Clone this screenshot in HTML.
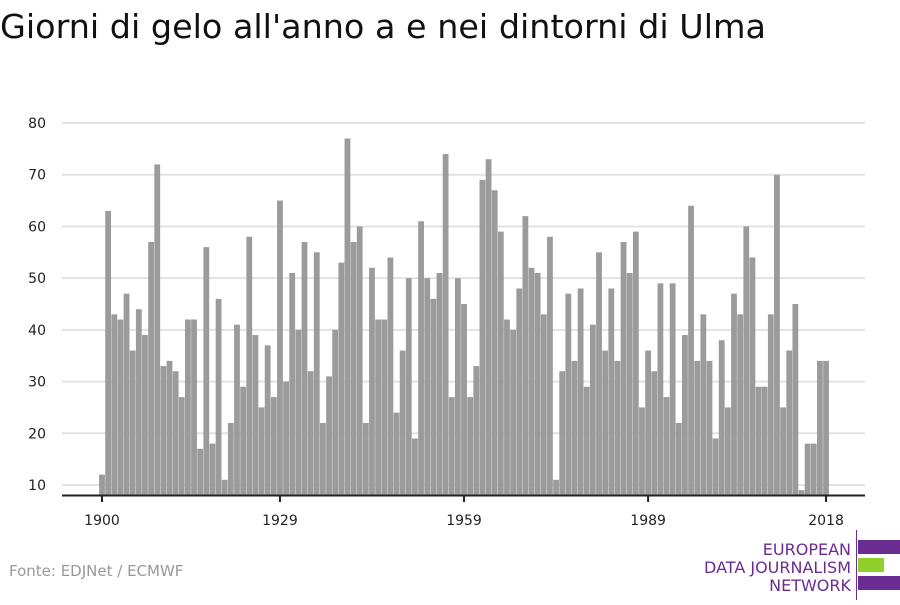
<!DOCTYPE html>
<html><head><meta charset="utf-8"><style>
body{margin:0;background:#fff;width:900px;height:600px;overflow:hidden;font-family:"Liberation Sans","DejaVu Sans",sans-serif}
</style></head><body>
<svg width="900" height="600" viewBox="0 0 900 600" xmlns="http://www.w3.org/2000/svg" font-family="'DejaVu Sans','Liberation Sans',sans-serif">
<text x="0" y="38" font-size="33" fill="#111" textLength="766" lengthAdjust="spacingAndGlyphs" font-family="'DejaVu Sans','Liberation Sans',sans-serif">Giorni di gelo all'anno a e nei dintorni di Ulma</text>
<g id="grid" stroke="#e3e3e3" stroke-width="2"></g>
<g id="ylab" font-size="14" fill="#222" text-anchor="end"></g>
<g id="bars" fill="#9b9b9b"></g>
<line x1="62" y1="495.5" x2="865" y2="495.5" stroke="#222" stroke-width="2"/>
<g id="xt" stroke="#222" stroke-width="2"></g>
<g id="xl" font-size="14" fill="#222" text-anchor="middle"></g>
<text x="9" y="576" font-size="15" fill="#999">Fonte: EDJNet / ECMWF</text>
<line x1="856.5" y1="530" x2="856.5" y2="600" stroke="#6a2c91" stroke-width="1"/>
<g font-size="16" fill="#6a2c91" text-anchor="end">
<text x="851" y="555">EUROPEAN</text>
<text x="851" y="573">DATA JOURNALISM</text>
<text x="851" y="591">NETWORK</text>
</g>
<rect x="858" y="540" width="42" height="14" fill="#6a2c91"/>
<rect x="858" y="558" width="26" height="14" fill="#8fd12a"/>
<rect x="858" y="576" width="42" height="14" fill="#6a2c91"/>
<script>
var v=[12,63,43,42,47,36,44,39,57,72,33,34,32,27,42,42,17,56,18,46,11,22,41,29,58,39,25,37,27,65,30,51,40,57,32,55,22,31,40,53,77,57,60,22,52,42,42,54,24,36,50,19,61,50,46,51,74,27,50,45,27,33,69,73,67,59,42,40,48,62,52,51,43,58,11,32,47,34,48,29,41,55,36,48,34,57,51,59,25,36,32,49,27,49,22,39,64,34,43,34,19,38,25,47,43,60,54,29,29,43,70,25,36,45,9,18,18,34,34];
var ns="http://www.w3.org/2000/svg";
function el(g,t,a,txt){var e=document.createElementNS(ns,t);for(var k in a)e.setAttribute(k,a[k]);if(txt)e.textContent=txt;document.getElementById(g).appendChild(e);}
function Y(val){return 485-(val-10)*5.171;}
for(var t=10;t<=80;t+=10){var y=Y(t);el('grid','line',{x1:62,x2:865,y1:y,y2:y});el('ylab','text',{x:46,y:y+5},String(t));}
function X(yr){return 102+(yr-1900)*6.136;}
v.forEach(function(val,i){var x=X(1900+i);var y=Y(val);el('bars','rect',{x:x-2.9,y:y,width:5.8,height:494.5-y});});
[1900,1929,1959,1989,2018].forEach(function(yr){var x=X(yr);el('xt','line',{x1:x,x2:x,y1:495,y2:502});el('xl','text',{x:x,y:525},String(yr));});
</script>
</svg>
</body></html>
